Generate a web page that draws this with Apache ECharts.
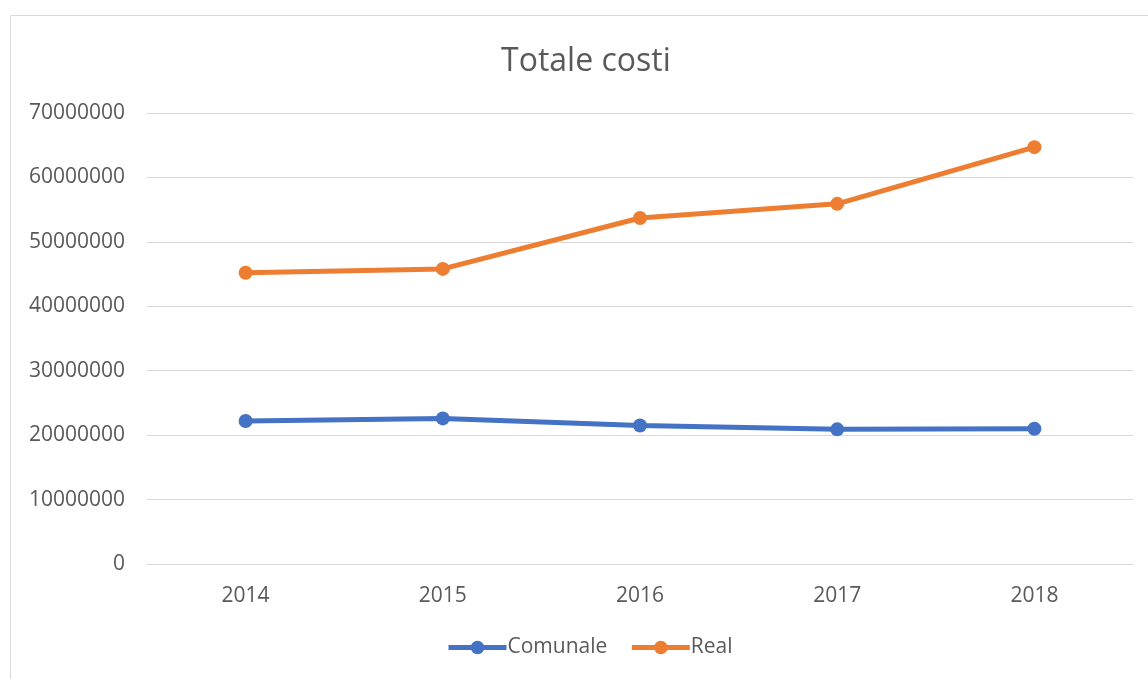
<!DOCTYPE html>
<html>
<head>
<meta charset="utf-8">
<title>Totale costi</title>
<script src="https://cdn.jsdelivr.net/npm/echarts@6/dist/echarts.min.js"></script>
<style>
  html, body { margin: 0; padding: 0; background: #ffffff; }
  #chart { width: 1148px; height: 679px; }
</style>
</head>
<body>
<div id="chart"></div>
<script>
// Years on the category axis
const years = ['2014', '2015', '2016', '2017', '2018'];
// Total costs per year
const comunale = [22200000, 22600000, 21500000, 20900000, 21000000];
const real = [45200000, 45800000, 53700000, 55900000, 64700000];
// Value axis range
const yMin = 0;
const yMax = 70000000;
const yStep = 10000000;

const FONT = '"Open Sans", Lato, sans-serif';
const TEXT = '#595959';
const GRID = '#d9d9d9';

const chart = echarts.init(document.getElementById('chart'), null, { renderer: 'canvas' });

function lineSeries(name, data, color) {
  return {
    name: name,
    type: 'line',
    data: data,
    symbol: 'circle',
    symbolSize: 14,
    lineStyle: { color: color, width: 5 },
    itemStyle: { color: color },
    emphasis: { disabled: true },
    animation: false
  };
}

chart.setOption({
  animation: false,
  graphic: [{
    type: 'rect',
    shape: { x: 10.5, y: 15.5, width: 1200, height: 720 },
    style: { fill: 'none', stroke: GRID, lineWidth: 1 },
    silent: true,
    z: -1
  }],
  title: {
    text: 'Totale costi',
    left: 496,
    top: 41,
    textStyle: { fontFamily: FONT, fontSize: 32, fontWeight: 'normal', color: TEXT }
  },
  legend: {
    data: ['Comunale', 'Real'],
    bottom: 16,
    left: 441,
    itemWidth: 58,
    itemHeight: 17,
    itemGap: 22,
    lineStyle: { width: 5 },
    textStyle: { fontFamily: FONT, fontSize: 21, color: TEXT, padding: [0, 0, 0, -4] }
  },
  grid: { left: 147, right: 15, top: 113, bottom: 115, containLabel: false },
  xAxis: {
    type: 'category',
    data: years,
    boundaryGap: true,
    axisLine: { show: true, lineStyle: { color: GRID, width: 1 } },
    axisTick: { show: false },
    axisLabel: { fontFamily: FONT, fontSize: 21, color: TEXT, margin: 22 }
  },
  yAxis: {
    type: 'value',
    min: yMin,
    max: yMax,
    interval: yStep,
    axisLine: { show: false },
    axisTick: { show: false },
    splitLine: { lineStyle: { color: GRID, width: 1 } },
    axisLabel: {
      fontFamily: FONT, fontSize: 21, color: TEXT, margin: 22,
      formatter: function (v) { return String(v); }
    }
  },
  series: [
    lineSeries('Comunale', comunale, '#4472C4'),
    lineSeries('Real', real, '#ED7D31')
  ]
});
</script>
</body>
</html>
